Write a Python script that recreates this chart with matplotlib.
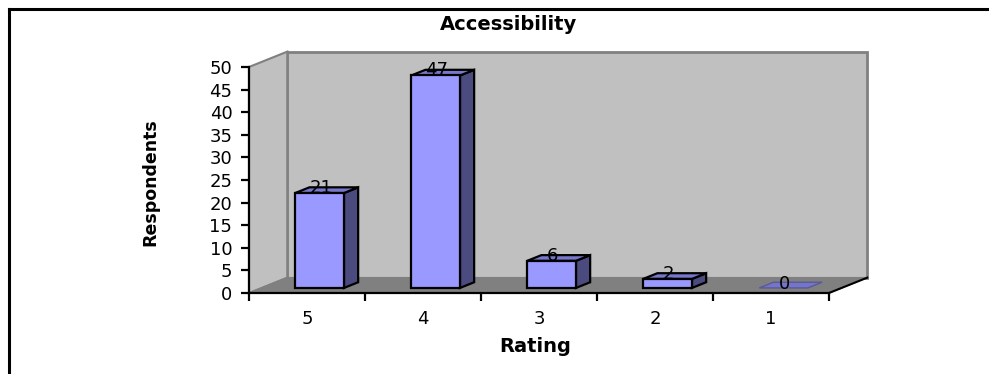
import numpy as np
import matplotlib
matplotlib.use('Agg')
from matplotlib import pyplot as plt
from matplotlib.patches import Polygon
from matplotlib.lines import Line2D

#Chart data
ratings = ['5', '4', '3', '2', '1']
respondents = [21, 47, 6, 2, 0]

#3D look: depth offset of the back wall in data units
DX = 0.33
DY = 3.4
BAR_W = 0.42
BAR_D0, BAR_D1 = 0.33, 0.70

FRONT = '#9999FF'
TOP = '#7777CC'
SIDE = '#4B4B80'

fig = plt.figure(figsize = (9.89, 3.74), dpi = 100)
ax = fig.add_axes([249/989, 81/374, 580/989, 226/374])
ax.set_xlim(0, 5)
ax.set_ylim(0, 50)
ax.patch.set_visible(False)

def proj(pts):
    return [(x + d*DX, y + d*DY) for x, y, d in pts]

def face(pts, fc, ec, lw, z):
    p = Polygon(proj(pts), closed = True, facecolor = fc, edgecolor = ec,
                linewidth = lw, zorder = z, clip_on = False, joinstyle = 'miter')
    ax.add_patch(p)

n = len(ratings)
ymax = 50

#Walls and floor
face([(0, 0, 1), (n, 0, 1), (n, ymax, 1), (0, ymax, 1)], '#C0C0C0', '#808080', 2, 0)
face([(0, 0, 0), (0, ymax, 0), (0, ymax, 1), (0, 0, 1)], '#C0C0C0', '#808080', 1.5, 0)
face([(0, 0, 0), (n, 0, 0), (n, 0, 1), (0, 0, 1)], '#808080', '#808080', 1, 0.5)
edge = proj([(n, 0, 0), (n, 0, 1)])
ax.plot([edge[0][0], edge[1][0]], [edge[0][1], edge[1][1]], color = 'black',
        lw = 1.5, clip_on = False, zorder = 1)

#Bars
for i, v in enumerate(respondents):
    x0 = i + (1 - BAR_W) / 2
    x1 = x0 + BAR_W
    if v > 0:
        face([(x1, 0, BAR_D0), (x1, 0, BAR_D1), (x1, v, BAR_D1), (x1, v, BAR_D0)], SIDE, 'black', 1.6, 2)
        face([(x0, v, BAR_D0), (x1, v, BAR_D0), (x1, v, BAR_D1), (x0, v, BAR_D1)], TOP, 'black', 1.6, 2)
        face([(x0, 0, BAR_D0), (x1, 0, BAR_D0), (x1, v, BAR_D0), (x0, v, BAR_D0)], FRONT, 'black', 1.6, 3)
    else:
        face([(x0, 0, BAR_D0), (x1, 0, BAR_D0), (x1, 0, BAR_D1), (x0, 0, BAR_D1)], '#7474C8', '#5A5A99', 1, 2)
    lx, ly = proj([((x0 + x1) / 2, v, BAR_D0)])[0]
    if v == 0:
        ly -= 0.2
    ax.text(lx + 0.01, ly, str(v), ha = 'center', va = 'baseline',
            fontsize = 13, zorder = 4)

#Axes styling
for s in ['top', 'right']:
    ax.spines[s].set_visible(False)
ax.spines['left'].set_linewidth(1.6)
ax.spines['bottom'].set_linewidth(1.6)
ax.spines['left'].set_zorder(5)
ax.spines['bottom'].set_zorder(5)
ax.set_yticks(range(0, 51, 5))
ax.tick_params(axis = 'y', direction = 'out', length = 6, width = 1.6, labelsize = 13, pad = 6)
ax.set_xticks(range(0, n + 1))
ax.set_xticklabels([])
ax.set_xticks(np.arange(n) + 0.5, minor = True)
ax.set_xticklabels(ratings, minor = True)
ax.tick_params(axis = 'x', which = 'major', direction = 'out', length = 6, width = 1.6)
ax.tick_params(axis = 'x', which = 'minor', length = 0, labelsize = 13, pad = 12)

#Titles
fig.text(509/989, 1 - 25/374, 'Accessibility', ha = 'center', va = 'center',
         fontsize = 14, fontweight = 'bold')
fig.text(535/989, 1 - 347/374, 'Rating', ha = 'center', va = 'center',
         fontsize = 14, fontweight = 'bold')
fig.text(150/989, 1 - 182/374, 'Respondents', ha = 'center', va = 'center',
         rotation = 90, fontsize = 12.5, fontweight = 'bold')

#Chart area border (top and left)
fig.add_artist(Line2D([8.5/989, 1], [1 - 8.5/374, 1 - 8.5/374], color = 'black', lw = 2.2))
fig.add_artist(Line2D([8.5/989, 8.5/989], [0, 1 - 8.5/374], color = 'black', lw = 2.2))

plt.savefig('out.png', dpi = 100)
